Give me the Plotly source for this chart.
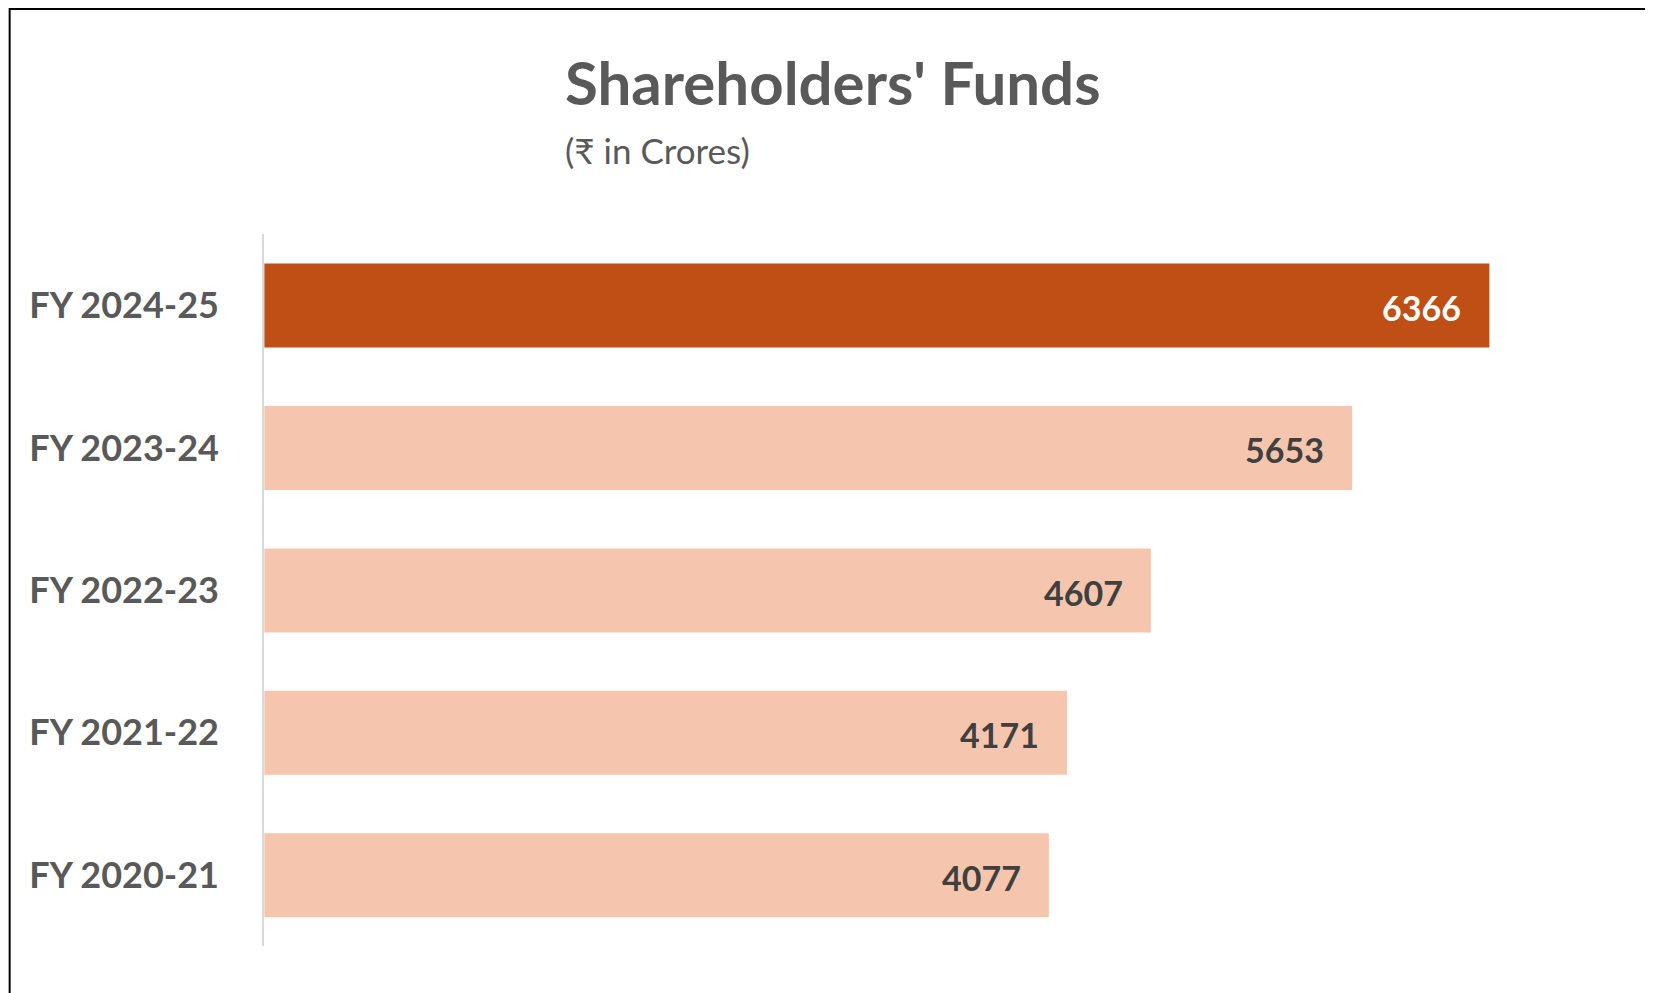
import plotly.graph_objects as go

years = ["FY 2020-21", "FY 2021-22", "FY 2022-23", "FY 2023-24", "FY 2024-25"]
funds = [4077, 4171, 4607, 5653, 6366]
bar_colors = ["#F5C6AD", "#F5C6AD", "#F5C6AD", "#F5C6AD", "#BF4F14"]
label_colors = ["#404040", "#404040", "#404040", "#404040", "#FFFFFF"]

fig = go.Figure()
fig.add_trace(go.Bar(
    x=funds, y=years, orientation="h",
    marker=dict(color=bar_colors, line=dict(width=0)),
    hoverinfo="x+y",
))

# value labels inside bar ends
for v, y, c in zip(funds, years, label_colors):
    fig.add_annotation(x=v, y=y, text="<b>%d</b>" % v, showarrow=False,
                       xanchor="right", xshift=-26, yshift=-2,
                       font=dict(size=34, color=c, family="Lato"))

fig.add_annotation(text="<b>Shareholders' Funds</b>", xref="paper", yref="paper",
                   x=0.336, y=0.925, showarrow=False, xanchor="left", yanchor="middle",
                   font=dict(size=60, color="#595959", family="Lato"))
fig.add_annotation(text="(₹ in Crores)", xref="paper", yref="paper",
                   x=0.336, y=0.857, showarrow=False, xanchor="left", yanchor="middle",
                   font=dict(size=35, color="#595959", family="Lato"))

# outer border
fig.add_shape(type="rect", xref="paper", yref="paper", x0=0.001, y0=0.001, x1=0.999, y1=0.999,
              line=dict(color="black", width=2))

fig.update_layout(
    width=1653, height=993,
    margin=dict(l=0, r=0, t=0, b=0),
    plot_bgcolor="white", paper_bgcolor="white",
    bargap=0.41, showlegend=False,
    font=dict(family="Lato", color="#595959"),
)
fig.update_xaxes(domain=[0.155, 0.97], range=[0, 7000], visible=False)
fig.update_yaxes(domain=[0.055, 0.772], showline=True, linecolor="#D9D9D9", linewidth=2,
                 ticks="", ticklabelstandoff=36,
                 tickfont=dict(size=36, color="#595959", family="Lato", weight="bold"))

fig.write_html("out.html")
